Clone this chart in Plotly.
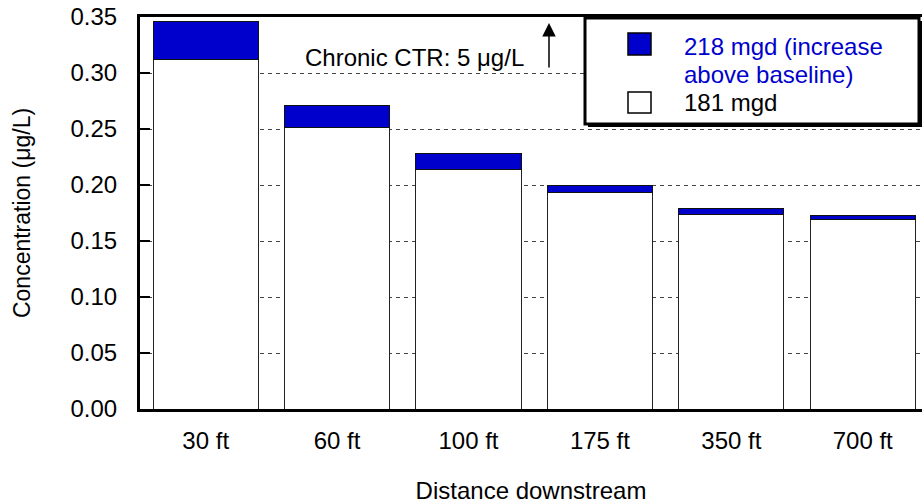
import plotly.graph_objects as go

# Data
distances = ["30 ft", "60 ft", "100 ft", "175 ft", "350 ft", "700 ft"]
baseline_181 = [0.312, 0.251, 0.214, 0.193, 0.174, 0.169]
increase_218 = [0.034, 0.020, 0.014, 0.007, 0.005, 0.0035]
y_ticks = [0.00, 0.05, 0.10, 0.15, 0.20, 0.25, 0.30, 0.35]

FONT = "Liberation Sans, Arial, sans-serif"
BLUE = "#0000CC"

W, H = 922, 504
ML, MR, MT, MB = 140, 0, 17, 95
PW, PH = W - ML - MR, H - MT - MB


def px(x):
    return (x - ML) / PW


def py(y):
    return (H - MB - y) / PH


fig = go.Figure()
fig.add_trace(go.Bar(
    x=distances, y=baseline_181, name="181 mgd",
    marker=dict(color="white", line=dict(color="#222", width=1)),
    width=0.8, showlegend=False,
))
fig.add_trace(go.Bar(
    x=distances, y=increase_218, name="218 mgd (increase above baseline)",
    marker=dict(color=BLUE, line=dict(color="#111", width=1)),
    width=0.8, showlegend=False,
))

shapes = []
# legend shadow + box
shapes.append(dict(type="rect", xref="paper", yref="paper",
                   x0=px(588), x1=px(923), y0=py(127), y1=py(21),
                   fillcolor="black", line=dict(width=0), layer="above"))
shapes.append(dict(type="rect", xref="paper", yref="paper",
                   x0=px(585), x1=px(919), y0=py(124), y1=py(18),
                   fillcolor="white", line=dict(color="black", width=3), layer="above"))
# swatches
shapes.append(dict(type="rect", xref="paper", yref="paper",
                   x0=px(628), x1=px(651), y0=py(55), y1=py(33),
                   fillcolor=BLUE, line=dict(color="black", width=1.5), layer="above"))
shapes.append(dict(type="rect", xref="paper", yref="paper",
                   x0=px(628), x1=px(651), y0=py(113), y1=py(92),
                   fillcolor="white", line=dict(color="black", width=1.5), layer="above"))

annotations = [
    dict(xref="paper", yref="paper", x=px(682), y=py(46), xanchor="left", yanchor="middle",
         text="218 mgd (increase", showarrow=False, font=dict(size=24, color=BLUE, family=FONT)),
    dict(xref="paper", yref="paper", x=px(682), y=py(74), xanchor="left", yanchor="middle",
         text="above baseline)", showarrow=False, font=dict(size=24, color=BLUE, family=FONT)),
    dict(xref="paper", yref="paper", x=px(682), y=py(102), xanchor="left", yanchor="middle",
         text="181 mgd", showarrow=False, font=dict(size=24, color="black", family=FONT)),
    dict(xref="paper", yref="paper", x=px(414), y=py(57), xanchor="center", yanchor="middle",
         text="Chronic CTR: 5 \u03bcg/L", showarrow=False,
         font=dict(size=24, color="black", family=FONT)),
    dict(xref="paper", yref="paper", x=px(549), y=py(23), axref="pixel", ayref="pixel",
         ax=0, ay=46, text="", showarrow=True, arrowhead=2, arrowsize=1.8,
         arrowwidth=1.5, arrowcolor="black"),
]

fig.update_layout(
    width=W, height=H,
    margin=dict(l=ML, r=MR, t=MT, b=MB),
    paper_bgcolor="white", plot_bgcolor="white",
    barmode="stack", bargap=0.2,
    font=dict(family=FONT, size=24, color="black"),
    shapes=shapes, annotations=annotations,
    xaxis=dict(
        range=[-0.5, -0.5 + PW / 131.4],
        showline=True, linecolor="black", linewidth=3, mirror=True,
        ticks="", showgrid=False, ticklabelstandoff=8,
        tickfont=dict(size=24),
        title=dict(text="Distance downstream", font=dict(size=24), standoff=30),
    ),
    yaxis=dict(
        range=[0, 0.35], tickvals=y_ticks, tickformat=".2f",
        showline=True, linecolor="black", linewidth=3,
        ticks="inside", ticklen=10, tickwidth=1.5, tickcolor="black",
        showgrid=True, gridcolor="#444", gridwidth=1, griddash="4px,4px",
        zeroline=False, ticklabelstandoff=15,
        tickfont=dict(size=24),
        title=dict(text="Concentration (\u03bcg/L)", font=dict(size=23), standoff=34),
    ),
)

fig.write_html("out.html", config={"displayModeBar": False},
               post_script="document.body.style.margin='0';")
